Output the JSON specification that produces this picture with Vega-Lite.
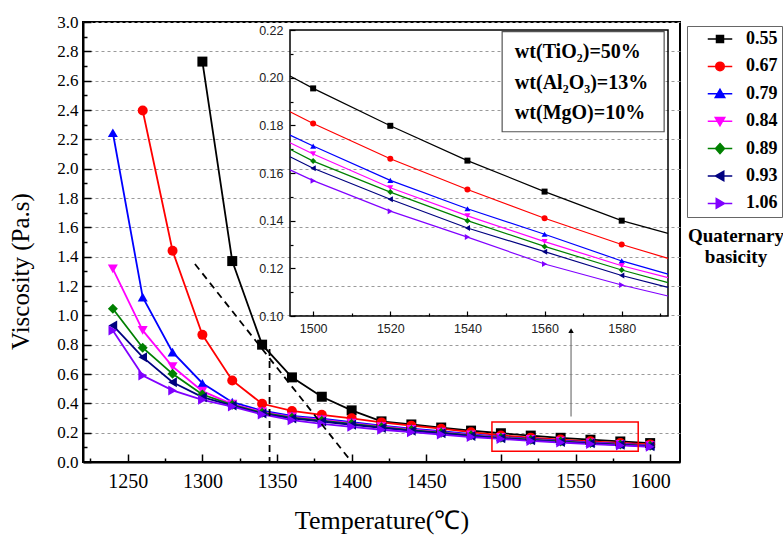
{
  "$schema": "https://vega.github.io/schema/vega-lite/v6.json",
  "width": 597,
  "height": 440,
  "autosize": {"type": "none"},
  "padding": {"left": 83, "top": 22, "right": 103, "bottom": 74},
  "background": "white",
  "config": {
    "view": {"stroke": "black", "strokeWidth": 2},
    "axis": {"labelFont": "Liberation Serif", "titleFont": "Liberation Serif", "labelColor": "black", "titleColor": "black", "domainColor": "black", "tickColor": "black", "titleFontWeight": "normal", "labelFlush": false, "labelOverlap": false}
  },
  "title": {"text": ["Quaternary", "basicity"], "orient": "top", "anchor": "end", "frame": "group", "align": "center", "baseline": "top", "dx": 56, "dy": 254, "font": "Liberation Serif", "fontSize": 19, "fontWeight": "bold", "color": "black", "lineHeight": 21, "offset": 0},
  "datasets": {
    "main": [
      {"T":1300,"v":2.73,"b":"0.55"},{"T":1320,"v":1.37,"b":"0.55"},{"T":1340,"v":0.80,"b":"0.55"},{"T":1360,"v":0.577,"b":"0.55"},{"T":1380,"v":0.445,"b":"0.55"},{"T":1400,"v":0.352,"b":"0.55"},{"T":1420,"v":0.277,"b":"0.55"},{"T":1440,"v":0.256,"b":"0.55"},{"T":1460,"v":0.235,"b":"0.55"},{"T":1480,"v":0.214,"b":"0.55"},{"T":1500,"v":0.196,"b":"0.55"},{"T":1520,"v":0.18,"b":"0.55"},{"T":1540,"v":0.165,"b":"0.55"},{"T":1560,"v":0.152,"b":"0.55"},{"T":1580,"v":0.14,"b":"0.55"},{"T":1600,"v":0.129,"b":"0.55"},
      {"T":1260,"v":2.397,"b":"0.67"},{"T":1280,"v":1.44,"b":"0.67"},{"T":1300,"v":0.867,"b":"0.67"},{"T":1320,"v":0.556,"b":"0.67"},{"T":1340,"v":0.397,"b":"0.67"},{"T":1360,"v":0.348,"b":"0.67"},{"T":1380,"v":0.322,"b":"0.67"},{"T":1400,"v":0.298,"b":"0.67"},{"T":1420,"v":0.27,"b":"0.67"},{"T":1440,"v":0.248,"b":"0.67"},{"T":1460,"v":0.227,"b":"0.67"},{"T":1480,"v":0.203,"b":"0.67"},{"T":1500,"v":0.181,"b":"0.67"},{"T":1520,"v":0.166,"b":"0.67"},{"T":1540,"v":0.153,"b":"0.67"},{"T":1560,"v":0.141,"b":"0.67"},{"T":1580,"v":0.13,"b":"0.67"},{"T":1600,"v":0.12,"b":"0.67"},
      {"T":1240,"v":2.245,"b":"0.79"},{"T":1260,"v":1.124,"b":"0.79"},{"T":1280,"v":0.749,"b":"0.79"},{"T":1300,"v":0.537,"b":"0.79"},{"T":1320,"v":0.408,"b":"0.79"},{"T":1340,"v":0.35,"b":"0.79"},{"T":1360,"v":0.315,"b":"0.79"},{"T":1380,"v":0.295,"b":"0.79"},{"T":1400,"v":0.272,"b":"0.79"},{"T":1420,"v":0.248,"b":"0.79"},{"T":1440,"v":0.228,"b":"0.79"},{"T":1460,"v":0.21,"b":"0.79"},{"T":1480,"v":0.19,"b":"0.79"},{"T":1500,"v":0.171,"b":"0.79"},{"T":1520,"v":0.157,"b":"0.79"},{"T":1540,"v":0.145,"b":"0.79"},{"T":1560,"v":0.134,"b":"0.79"},{"T":1580,"v":0.123,"b":"0.79"},{"T":1600,"v":0.114,"b":"0.79"},
      {"T":1240,"v":1.317,"b":"0.84"},{"T":1260,"v":0.897,"b":"0.84"},{"T":1280,"v":0.651,"b":"0.84"},{"T":1300,"v":0.483,"b":"0.84"},{"T":1320,"v":0.395,"b":"0.84"},{"T":1340,"v":0.342,"b":"0.84"},{"T":1360,"v":0.308,"b":"0.84"},{"T":1380,"v":0.288,"b":"0.84"},{"T":1400,"v":0.265,"b":"0.84"},{"T":1420,"v":0.242,"b":"0.84"},{"T":1440,"v":0.222,"b":"0.84"},{"T":1460,"v":0.204,"b":"0.84"},{"T":1480,"v":0.185,"b":"0.84"},{"T":1500,"v":0.168,"b":"0.84"},{"T":1520,"v":0.154,"b":"0.84"},{"T":1540,"v":0.142,"b":"0.84"},{"T":1560,"v":0.131,"b":"0.84"},{"T":1580,"v":0.121,"b":"0.84"},{"T":1600,"v":0.112,"b":"0.84"},
      {"T":1240,"v":1.045,"b":"0.89"},{"T":1260,"v":0.779,"b":"0.89"},{"T":1280,"v":0.601,"b":"0.89"},{"T":1300,"v":0.46,"b":"0.89"},{"T":1320,"v":0.39,"b":"0.89"},{"T":1340,"v":0.336,"b":"0.89"},{"T":1360,"v":0.302,"b":"0.89"},{"T":1380,"v":0.282,"b":"0.89"},{"T":1400,"v":0.26,"b":"0.89"},{"T":1420,"v":0.237,"b":"0.89"},{"T":1440,"v":0.218,"b":"0.89"},{"T":1460,"v":0.2,"b":"0.89"},{"T":1480,"v":0.182,"b":"0.89"},{"T":1500,"v":0.165,"b":"0.89"},{"T":1520,"v":0.152,"b":"0.89"},{"T":1540,"v":0.14,"b":"0.89"},{"T":1560,"v":0.129,"b":"0.89"},{"T":1580,"v":0.119,"b":"0.89"},{"T":1600,"v":0.11,"b":"0.89"},
      {"T":1240,"v":0.931,"b":"0.93"},{"T":1260,"v":0.715,"b":"0.93"},{"T":1280,"v":0.544,"b":"0.93"},{"T":1300,"v":0.442,"b":"0.93"},{"T":1320,"v":0.385,"b":"0.93"},{"T":1340,"v":0.33,"b":"0.93"},{"T":1360,"v":0.297,"b":"0.93"},{"T":1380,"v":0.276,"b":"0.93"},{"T":1400,"v":0.254,"b":"0.93"},{"T":1420,"v":0.232,"b":"0.93"},{"T":1440,"v":0.213,"b":"0.93"},{"T":1460,"v":0.196,"b":"0.93"},{"T":1480,"v":0.178,"b":"0.93"},{"T":1500,"v":0.162,"b":"0.93"},{"T":1520,"v":0.149,"b":"0.93"},{"T":1540,"v":0.137,"b":"0.93"},{"T":1560,"v":0.127,"b":"0.93"},{"T":1580,"v":0.117,"b":"0.93"},{"T":1600,"v":0.108,"b":"0.93"},
      {"T":1240,"v":0.897,"b":"1.06"},{"T":1260,"v":0.59,"b":"1.06"},{"T":1280,"v":0.488,"b":"1.06"},{"T":1300,"v":0.424,"b":"1.06"},{"T":1320,"v":0.378,"b":"1.06"},{"T":1340,"v":0.324,"b":"1.06"},{"T":1360,"v":0.285,"b":"1.06"},{"T":1380,"v":0.26,"b":"1.06"},{"T":1400,"v":0.24,"b":"1.06"},{"T":1420,"v":0.22,"b":"1.06"},{"T":1440,"v":0.203,"b":"1.06"},{"T":1460,"v":0.187,"b":"1.06"},{"T":1480,"v":0.17,"b":"1.06"},{"T":1500,"v":0.157,"b":"1.06"},{"T":1520,"v":0.144,"b":"1.06"},{"T":1540,"v":0.133,"b":"1.06"},{"T":1560,"v":0.122,"b":"1.06"},{"T":1580,"v":0.113,"b":"1.06"},{"T":1600,"v":0.104,"b":"1.06"}
    ],
    "inset": [
      {"T":1494,"v":0.2007,"b":"0.55"},{"T":1500,"v":0.1955,"b":"0.55"},{"T":1520,"v":0.1798,"b":"0.55"},{"T":1540,"v":0.1652,"b":"0.55"},{"T":1560,"v":0.1522,"b":"0.55"},{"T":1580,"v":0.140,"b":"0.55"},{"T":1592,"v":0.1347,"b":"0.55"},
      {"T":1494,"v":0.1857,"b":"0.67"},{"T":1500,"v":0.1808,"b":"0.67"},{"T":1520,"v":0.166,"b":"0.67"},{"T":1540,"v":0.1531,"b":"0.67"},{"T":1560,"v":0.141,"b":"0.67"},{"T":1580,"v":0.130,"b":"0.67"},{"T":1592,"v":0.1242,"b":"0.67"},
      {"T":1494,"v":0.1759,"b":"0.79"},{"T":1500,"v":0.1713,"b":"0.79"},{"T":1520,"v":0.1569,"b":"0.79"},{"T":1540,"v":0.145,"b":"0.79"},{"T":1560,"v":0.1343,"b":"0.79"},{"T":1580,"v":0.1231,"b":"0.79"},{"T":1592,"v":0.1176,"b":"0.79"},
      {"T":1494,"v":0.1727,"b":"0.84"},{"T":1500,"v":0.168,"b":"0.84"},{"T":1520,"v":0.1538,"b":"0.84"},{"T":1540,"v":0.142,"b":"0.84"},{"T":1560,"v":0.1312,"b":"0.84"},{"T":1580,"v":0.1211,"b":"0.84"},{"T":1592,"v":0.1161,"b":"0.84"},
      {"T":1494,"v":0.170,"b":"0.89"},{"T":1500,"v":0.165,"b":"0.89"},{"T":1520,"v":0.152,"b":"0.89"},{"T":1540,"v":0.140,"b":"0.89"},{"T":1560,"v":0.1292,"b":"0.89"},{"T":1580,"v":0.1193,"b":"0.89"},{"T":1592,"v":0.114,"b":"0.89"},
      {"T":1494,"v":0.1668,"b":"0.93"},{"T":1500,"v":0.162,"b":"0.93"},{"T":1520,"v":0.149,"b":"0.93"},{"T":1540,"v":0.1369,"b":"0.93"},{"T":1560,"v":0.127,"b":"0.93"},{"T":1580,"v":0.117,"b":"0.93"},{"T":1592,"v":0.112,"b":"0.93"},
      {"T":1494,"v":0.1613,"b":"1.06"},{"T":1500,"v":0.1568,"b":"1.06"},{"T":1520,"v":0.144,"b":"1.06"},{"T":1540,"v":0.1331,"b":"1.06"},{"T":1560,"v":0.1218,"b":"1.06"},{"T":1580,"v":0.113,"b":"1.06"},{"T":1592,"v":0.1084,"b":"1.06"}
    ],
    "dash": [
      {"T":1295,"v":1.35,"g":"diag"},{"T":1400,"v":0,"g":"diag"},
      {"T":1345,"v":0.77,"g":"vert"},{"T":1345,"v":0,"g":"vert"}
    ],
    "zoombox": [{"x1":1494,"x2":1592,"y1":0.074,"y2":0.273}],
    "arrow": [{"T":1547,"v1":0.31,"v2":0.89,"tip":0.895}],
    "frame": [{"x1":1494,"x2":1592,"y1":0.10,"y2":0.22}],
    "notebox": [{"x1":1549,"x2":1591,"y1":0.1773,"y2":0.2193}],
    "notes": [
      {"x":1552.3,"y":0.2109,"text":"wt(TiO₂)=50%"},
      {"x":1552.3,"y":0.1976,"text":"wt(Al₂O₃)=13%"},
      {"x":1552.3,"y":0.185,"text":"wt(MgO)=10%"}
    ]
  },
  "layer": [
    {
      "data": {"name": "main"},
      "mark": {"type": "line", "strokeWidth": 1.8},
      "encoding": {
        "x": {"field": "T", "type": "quantitative", "scale": {"domain": [1220, 1620], "nice": false, "zero": false},
          "axis": {"orient": "bottom", "values": [1250,1300,1350,1400,1450,1500,1550,1600], "format": "d",
            "tickSize": -8, "tickWidth": 1.5, "labelFontSize": 20, "labelPadding": 17, "domainWidth": 2, "grid": false,
            "title": "Temperature(℃)", "titleFontSize": 26, "titleY": 45}},
        "y": {"field": "v", "type": "quantitative", "scale": {"domain": [0, 3], "nice": false, "zero": false},
          "axis": {"orient": "left", "values": [0,0.2,0.4,0.6,0.8,1.0,1.2,1.4,1.6,1.8,2.0,2.2,2.4,2.6,2.8,3.0], "format": ".1f",
            "tickSize": -8, "tickWidth": 1.5,
            "grid": true, "gridDash": [3, 3], "gridColor": "#9a9a9a", "gridWidth": 1,
            "labelFontSize": 17, "labelPadding": 13, "domainWidth": 2,
            "title": "Viscosity (Pa.s)", "titleFontSize": 25, "titleX": -50, "titleY": 249}},
        "color": {"field": "b", "type": "nominal", "legend": null,
          "scale": {"domain": ["0.55","0.67","0.79","0.84","0.89","0.93","1.06"], "range": ["#000000","#ff0000","#0000ff","#ff00ff","#008000","#000080","#8000ff"]}}
      }
    },
    {
      "data": {"name": "main"},
      "mark": {"type": "point", "filled": true, "size": 100, "opacity": 1},
      "encoding": {
        "x": {"field": "T", "type": "quantitative", "scale": {"domain": [1220, 1620], "nice": false, "zero": false},
          "axis": {"orient": "bottom", "values": [1225,1275,1325,1375,1425,1475,1525,1575], "labels": false, "domain": false, "grid": false, "tickSize": -4, "tickWidth": 1.5, "title": null}},
        "y": {"field": "v", "type": "quantitative", "scale": {"domain": [0, 3], "nice": false, "zero": false},
          "axis": {"orient": "left", "values": [0.1,0.3,0.5,0.7,0.9,1.1,1.3,1.5,1.7,1.9,2.1,2.3,2.5,2.7,2.9], "labels": false, "domain": false, "grid": false, "tickSize": -4, "tickWidth": 1.5, "title": null}},
        "color": {"field": "b", "type": "nominal", "legend": null},
        "shape": {"field": "b", "type": "nominal", "legend": null,
          "scale": {"domain": ["0.55","0.67","0.79","0.84","0.89","0.93","1.06"], "range": ["square","circle","triangle-up","triangle-down","diamond","triangle-left","triangle-right"]}}
      }
    },
    {
      "data": {"name": "dash"},
      "mark": {"type": "line", "color": "black", "strokeWidth": 1.8, "strokeDash": [7, 5]},
      "encoding": {
        "x": {"field": "T", "type": "quantitative", "scale": {"domain": [1220, 1620], "nice": false, "zero": false}, "axis": null},
        "y": {"field": "v", "type": "quantitative", "scale": {"domain": [0, 3], "nice": false, "zero": false}, "axis": null},
        "detail": {"field": "g"}
      }
    },
    {
      "data": {"name": "zoombox"},
      "mark": {"type": "rect", "fillOpacity": 0, "stroke": "#ff0000", "strokeWidth": 1.5},
      "encoding": {
        "x": {"field": "x1", "type": "quantitative", "scale": {"domain": [1220, 1620], "nice": false, "zero": false}, "axis": null},
        "x2": {"field": "x2"},
        "y": {"field": "y1", "type": "quantitative", "scale": {"domain": [0, 3], "nice": false, "zero": false}, "axis": null},
        "y2": {"field": "y2"}
      }
    },
    {
      "data": {"name": "arrow"},
      "mark": {"type": "rule", "color": "#808080", "strokeWidth": 1.3},
      "encoding": {
        "x": {"field": "T", "type": "quantitative", "scale": {"domain": [1220, 1620], "nice": false, "zero": false}, "axis": null},
        "y": {"field": "v1", "type": "quantitative", "scale": {"domain": [0, 3], "nice": false, "zero": false}, "axis": null},
        "y2": {"field": "v2"}
      }
    },
    {
      "data": {"name": "arrow"},
      "mark": {"type": "point", "shape": "triangle-up", "filled": true, "color": "black", "size": 30, "opacity": 1},
      "encoding": {
        "x": {"field": "T", "type": "quantitative", "scale": {"domain": [1220, 1620], "nice": false, "zero": false}, "axis": null},
        "y": {"field": "tip", "type": "quantitative", "scale": {"domain": [0, 3], "nice": false, "zero": false}, "axis": null}
      }
    },
    {
      "data": {"name": "frame"},
      "mark": {"type": "rect", "fillOpacity": 0, "stroke": "black", "strokeWidth": 1.5},
      "encoding": {
        "x": {"field": "x1", "type": "quantitative", "scale": {"domain": [1494, 1592], "range": [207, 585], "nice": false, "zero": false},
          "axis": {"orient": "bottom", "offset": -146, "values": [1500,1520,1540,1560,1580], "format": "d",
            "tickSize": -5, "tickWidth": 1.2,
            "labelFont": "Liberation Sans", "labelFontSize": 12.5, "labelColor": "#222222", "labelPadding": 11,
            "domain": false, "grid": false, "title": null}},
        "x2": {"field": "x2"},
        "y": {"field": "y1", "type": "quantitative", "scale": {"domain": [0.10, 0.22], "range": [294, 8], "nice": false, "zero": false},
          "axis": {"orient": "left", "offset": -207, "values": [0.10,0.12,0.14,0.16,0.18,0.20,0.22], "format": ".2f",
            "tickSize": -5, "tickWidth": 1.2,
            "labelFont": "Liberation Sans", "labelFontSize": 12.5, "labelColor": "#222222", "labelPadding": 12,
            "domain": false, "grid": false, "title": null}},
        "y2": {"field": "y2"}
      }
    },
    {
      "data": {"name": "notebox"},
      "mark": {"type": "rect", "fill": "white", "stroke": "#555555", "strokeWidth": 1.2},
      "encoding": {
        "x": {"field": "x1", "type": "quantitative", "scale": {"domain": [1494, 1592], "range": [207, 585], "nice": false, "zero": false},
          "axis": {"orient": "bottom", "offset": -146, "values": [1510,1530,1550,1570,1590], "labels": false, "domain": false, "grid": false, "tickSize": -3, "tickWidth": 1.2, "title": null}},
        "x2": {"field": "x2"},
        "y": {"field": "y1", "type": "quantitative", "scale": {"domain": [0.10, 0.22], "range": [294, 8], "nice": false, "zero": false},
          "axis": {"orient": "left", "offset": -207, "values": [0.11,0.13,0.15,0.17,0.19,0.21], "labels": false, "domain": false, "grid": false, "tickSize": -3, "tickWidth": 1.2, "title": null}},
        "y2": {"field": "y2"}
      }
    },
    {
      "data": {"name": "notes"},
      "mark": {"type": "text", "align": "left", "baseline": "middle", "font": "Liberation Serif", "fontSize": 20, "fontWeight": "bold", "color": "black"},
      "encoding": {
        "x": {"field": "x", "type": "quantitative", "scale": {"domain": [1494, 1592], "range": [207, 585], "nice": false, "zero": false}, "axis": null},
        "y": {"field": "y", "type": "quantitative", "scale": {"domain": [0.10, 0.22], "range": [294, 8], "nice": false, "zero": false}, "axis": null},
        "text": {"field": "text"}
      }
    },
    {
      "data": {"name": "inset"},
      "mark": {"type": "line", "strokeWidth": 1.2},
      "encoding": {
        "x": {"field": "T", "type": "quantitative", "scale": {"domain": [1494, 1592], "range": [207, 585], "nice": false, "zero": false}, "axis": null},
        "y": {"field": "v", "type": "quantitative", "scale": {"domain": [0.10, 0.22], "range": [294, 8], "nice": false, "zero": false}, "axis": null},
        "color": {"field": "b", "type": "nominal", "legend": null}
      }
    },
    {
      "data": {"name": "inset"},
      "transform": [{"filter": "datum.T % 20 == 0"}],
      "mark": {"type": "point", "filled": true, "size": 36, "opacity": 1},
      "encoding": {
        "x": {"field": "T", "type": "quantitative", "scale": {"domain": [1494, 1592], "range": [207, 585], "nice": false, "zero": false}, "axis": null},
        "y": {"field": "v", "type": "quantitative", "scale": {"domain": [0.10, 0.22], "range": [294, 8], "nice": false, "zero": false}, "axis": null},
        "color": {"field": "b", "type": "nominal", "legend": null},
        "shape": {"field": "b", "type": "nominal", "legend": null,
          "scale": {"domain": ["0.55","0.67","0.79","0.84","0.89","0.93","1.06"], "range": ["square","circle","triangle-up","triangle-down","diamond","triangle-left","triangle-right"]}}
      }
    },
    {
      "data": {"name": "main"},
      "transform": [{"filter": "datum.T < 0"}],
      "mark": {"type": "point", "filled": true, "opacity": 1},
      "encoding": {
        "x": {"field": "T", "type": "quantitative", "scale": {"domain": [1220, 1620], "nice": false, "zero": false}, "axis": null},
        "y": {"field": "v", "type": "quantitative", "scale": {"domain": [0, 3], "nice": false, "zero": false}, "axis": null},
        "fill": {"field": "b", "type": "nominal",
          "scale": {"domain": ["0.55","0.67","0.79","0.84","0.89","0.93","1.06"], "range": ["#000000","#ff0000","#0000ff","#ff00ff","#008000","#000080","#8000ff"]},
          "legend": {"orient": "none", "legendX": 604, "legendY": 4, "title": null,
            "strokeColor": "#666666", "fillColor": "white", "padding": 4,
            "labelFont": "Liberation Serif", "labelFontWeight": "bold", "labelFontSize": 18, "labelColor": "black",
            "symbolSize": 100, "symbolOffset": 20, "labelOffset": 17, "rowPadding": 9.4, "symbolStrokeWidth": 1.5, "symbolOpacity": 1}},
        "stroke": {"field": "b", "type": "nominal",
          "scale": {"domain": ["0.55","0.67","0.79","0.84","0.89","0.93","1.06"], "range": ["#000000","#ff0000","#0000ff","#ff00ff","#008000","#000080","#8000ff"]},
          "legend": {"orient": "none", "legendX": 604, "legendY": 4, "title": null}},
        "shape": {"field": "b", "type": "nominal",
          "scale": {"domain": ["0.55","0.67","0.79","0.84","0.89","0.93","1.06"], "range": [
            "M-2.45,0H2.45M-0.7,-0.7H0.7V0.7H-0.7Z",
            "M-2.45,0H2.45M0.85,0A0.85,0.85,0,1,1,-0.85,0A0.85,0.85,0,1,1,0.85,0Z",
            "M-2.45,0H2.45M0,-0.9L0.95,0.75H-0.95Z",
            "M-2.45,0H2.45M0,0.9L0.95,-0.75H-0.95Z",
            "M-2.45,0H2.45M0,-1L0.9,0L0,1L-0.9,0Z",
            "M-2.45,0H2.45M-0.9,0L0.75,-0.95V0.95Z",
            "M-2.45,0H2.45M0.9,0L-0.75,-0.95V0.95Z"]},
          "legend": {"orient": "none", "legendX": 604, "legendY": 4, "title": null}}
      }
    }
  ],
  "resolve": {"scale": {"x": "independent", "y": "independent", "shape": "independent", "fill": "independent", "stroke": "independent"}, "axis": {"x": "independent", "y": "independent"}}
}
